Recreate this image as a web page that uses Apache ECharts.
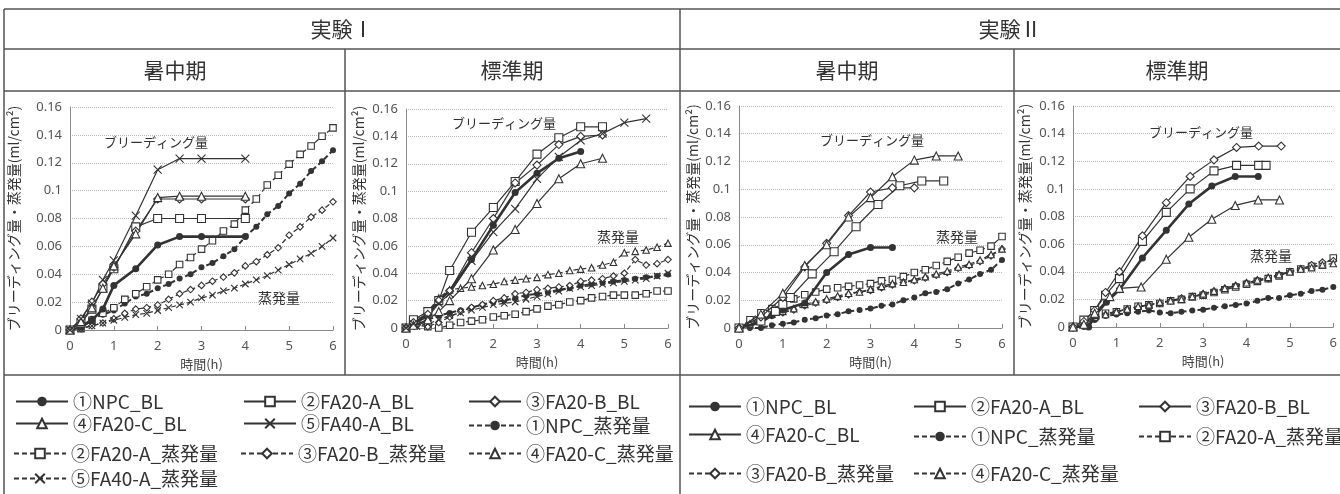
<!DOCTYPE html>
<html><head><meta charset="utf-8">
<script src="https://cdn.jsdelivr.net/npm/echarts@6/dist/echarts.min.js"></script>
<style>html,body{margin:0;padding:0;background:#fff}#c{width:1340px;height:494px}</style>
</head><body><div id="c"></div>
<script>
// ---------- names ----------
const N_NPC_BL = '①NPC_BL', N_A_BL = '②FA20-A_BL', N_B_BL = '③FA20-B_BL', N_C_BL = '④FA20-C_BL', N_F40_BL = '⑤FA40-A_BL';
const N_NPC_EV = '①NPC_蒸発量', N_A_EV = '②FA20-A_蒸発量', N_B_EV = '③FA20-B_蒸発量', N_C_EV = '④FA20-C_蒸発量', N_F40_EV = '⑤FA40-A_蒸発量';
const panelTitles = ['暑中期', '標準期', '暑中期', '標準期'];
const expTitles = ['実験Ⅰ', '実験Ⅱ'];
const yName = 'ブリーディング量・蒸発量(ml/cm²)';
const xName = '時間(h)';

// ---------- evaporation time axis (h) ----------
const evapTime = [0,0.25,0.5,0.75,1,1.25,1.5,1.75,2,2.25,2.5,2.75,3,3.25,3.5,3.75,4,4.25,4.5,4.75,5,5.25,5.5,5.75,6];

// ---------- 実験I 暑中期 ----------
const p1BlTime = [0,0.25,0.5,0.75,1,1.5,2,2.5,3,4];
const p1NpcBl = [0,0.002,0.007,0.015,0.032,0.044,0.061,0.067,0.067,0.067];
const p1ABl   = [0,0.005,0.015,0.030,0.044,0.074,0.080,0.080,0.080,0.080];
const p1BBl   = [0,0.008,0.020,0.033,0.045,0.071,0.094,0.094,0.094,0.094];
const p1CBl   = [0,0.006,0.016,0.030,0.046,0.069,0.095,0.096,0.096,0.096];
const p1F40Bl = [0,0.008,0.019,0.036,0.050,0.082,0.115,0.123,0.123,0.123];
const p1NpcEv = [0,0.002,0.008,0.011,0.014,0.019,0.024,0.026,0.030,0.033,0.037,0.040,0.045,0.048,0.053,0.058,0.067,0.074,0.083,0.089,0.098,0.105,0.114,0.121,0.129];
const p1AEv   = [0,0.001,0.007,0.012,0.016,0.022,0.026,0.031,0.036,0.040,0.047,0.052,0.058,0.064,0.071,0.076,0.086,0.094,0.104,0.111,0.119,0.126,0.132,0.139,0.145];
const p1BEv   = [0,0.001,0.003,0.005,0.008,0.012,0.015,0.016,0.018,0.022,0.026,0.029,0.032,0.035,0.038,0.041,0.046,0.049,0.054,0.059,0.068,0.074,0.081,0.086,0.092];
const p1F40Ev = [0,0.001,0.003,0.005,0.007,0.009,0.011,0.012,0.014,0.016,0.018,0.020,0.023,0.025,0.028,0.030,0.033,0.036,0.039,0.043,0.047,0.051,0.055,0.060,0.066];

// ---------- 実験I 標準期 ----------
const p2BlTime = [0,0.17,0.5,0.75,1,1.5,2,2.5,3,3.5,4,4.5,5,5.5];
const p2NpcBl = [0,0.003,0.010,0.020,0.027,0.050,0.075,0.099,0.113,0.124,0.129];
const p2ABl   = [0,0.006,0.012,0.020,0.042,0.070,0.088,0.107,0.127,0.139,0.147,0.147];
const p2BBl   = [0,0.004,0.010,0.020,0.027,0.055,0.080,0.106,0.119,0.134,0.140,0.141];
const p2CBl   = [0,0.002,0.006,0.012,0.020,0.036,0.057,0.072,0.091,0.109,0.120,0.124];
const p2F40Bl = [0,0.003,0.008,0.018,0.025,0.049,0.070,0.087,0.109,0.125,0.137,0.142,0.150,0.153];
const p2NpcEv = [0,0.002,0.006,0.009,0.011,0.013,0.015,0.017,0.019,0.020,0.022,0.024,0.025,0.026,0.028,0.029,0.031,0.032,0.033,0.034,0.035,0.036,0.037,0.038,0.039];
const p2AEv   = [0,0.005,0.001,0.000,0.002,0.004,0.005,0.006,0.008,0.009,0.010,0.012,0.014,0.016,0.017,0.019,0.020,0.022,0.023,0.024,0.024,0.024,0.025,0.027,0.027];
const p2BEv   = [0,0.002,0.001,0.004,0.008,0.012,0.015,0.017,0.020,0.022,0.025,0.026,0.028,0.029,0.030,0.031,0.034,0.035,0.036,0.038,0.040,0.050,0.046,0.047,0.050];
const p2CEv   = [0,0.005,0.012,0.022,0.028,0.029,0.030,0.031,0.032,0.034,0.035,0.036,0.037,0.039,0.040,0.042,0.043,0.044,0.046,0.048,0.055,0.056,0.057,0.059,0.062];
const p2F40Ev = [0,0.001,0.003,0.006,0.009,0.011,0.013,0.015,0.017,0.018,0.019,0.021,0.023,0.025,0.027,0.029,0.030,0.031,0.032,0.033,0.034,0.035,0.036,0.038,0.040];

// ---------- 実験II 暑中期 ----------
const p3NpcBlTime = [0,0.5,0.75,1,1.5,2,2.5,3,3.5];
const p3NpcBl = [0,0.004,0.009,0.013,0.018,0.040,0.053,0.058,0.058];
const p3ABlTime = [0,0.5,0.83,1,1.17,1.67,2.17,2.67,3.17,3.67,4.17,4.67];
const p3ABl   = [0,0.005,0.012,0.017,0.022,0.039,0.055,0.073,0.089,0.1025,0.106,0.106];
const p3BlTime = [0,0.5,1,1.5,2,2.5,3,3.5,4,4.5,5];
const p3BBl   = [0,0.008,0.022,0.044,0.061,0.081,0.098,0.101,0.101];
const p3CBl   = [0,0.010,0.025,0.045,0.060,0.080,0.094,0.109,0.121,0.124,0.124];
const p3NpcEv = [0,0,0,0.002,0.003,0.004,0.006,0.007,0.009,0.010,0.012,0.013,0.014,0.016,0.017,0.020,0.022,0.025,0.026,0.028,0.032,0.035,0.039,0.042,0.049];
const p3AEv   = [0,0.006,0.011,0.014,0.017,0.021,0.024,0.026,0.028,0.029,0.030,0.031,0.032,0.034,0.035,0.037,0.040,0.042,0.045,0.048,0.051,0.054,0.056,0.059,0.066];
const p3BEv   = [0,0.002,0.006,0.009,0.011,0.013,0.016,0.018,0.020,0.022,0.024,0.026,0.027,0.029,0.031,0.033,0.034,0.036,0.038,0.040,0.043,0.045,0.048,0.052,0.057];
const p3CEv   = [0,0.003,0.007,0.010,0.012,0.014,0.017,0.019,0.021,0.023,0.025,0.026,0.028,0.030,0.032,0.033,0.035,0.037,0.039,0.041,0.044,0.046,0.049,0.053,0.057];

// ---------- 実験II 標準期 ----------
const p4NpcBlTime = [0,0.36,0.5,0.77,1.07,1.6,2.15,2.67,3.2,3.74,4.27];
const p4NpcBl = [0,0,0.008,0.018,0.027,0.050,0.070,0.089,0.102,0.109,0.109];
const p4ABlTime = [0,0.25,0.5,0.75,1.07,1.6,2.15,2.7,3.25,3.77,4.28,4.45];
const p4ABl   = [0,0.005,0.012,0.023,0.035,0.062,0.083,0.100,0.113,0.117,0.117,0.117];
const p4BBlTime = [0,0.25,0.5,0.75,1.07,1.6,2.15,2.7,3.25,3.77,4.28,4.8];
const p4BBl   = [0,0.004,0.012,0.025,0.040,0.066,0.090,0.109,0.121,0.130,0.131,0.131];
const p4CBlTime = [0,0.25,0.5,0.85,1.07,1.57,2.15,2.67,3.2,3.74,4.27,4.76];
const p4CBl   = [0,0.002,0.010,0.022,0.028,0.029,0.049,0.065,0.078,0.088,0.092,0.092];
const p4NpcEv = [0,0,0.005,0.008,0.009,0.010,0.011,0.012,0.0105,0.010,0.011,0.012,0.0125,0.014,0.015,0.016,0.017,0.019,0.021,0.021,0.023,0.024,0.026,0.027,0.029];
const p4AEv   = [0,0.004,0.008,0.010,0.011,0.013,0.015,0.016,0.017,0.019,0.020,0.022,0.023,0.025,0.027,0.029,0.031,0.033,0.035,0.037,0.040,0.042,0.044,0.045,0.050];
const p4BEv   = [0,0.002,0.006,0.009,0.011,0.013,0.014,0.016,0.017,0.019,0.021,0.022,0.024,0.026,0.028,0.030,0.032,0.034,0.035,0.038,0.040,0.042,0.045,0.047,0.048];
const p4CEv   = [0,0.003,0.007,0.009,0.011,0.013,0.015,0.016,0.018,0.019,0.020,0.022,0.024,0.026,0.028,0.030,0.032,0.034,0.036,0.038,0.040,0.042,0.043,0.045,0.046];

// ---------- styling ----------
const FONT = "'Noto Sans CJK JP','Noto Sans',sans-serif";
const LINE = '#333';
const CROSS = 'path://M0,0L10,10M10,0L0,10';
const SYM = {npc:'circle', a:'rect', b:'diamond', c:'triangle', f40:CROSS};

function mk(name, key, evap, gi, times, vals) {
  const npc = key === 'npc';
  return {
    type:'line', name, xAxisIndex:gi, yAxisIndex:gi,
    data: vals.map((v,i)=>[times[i], v]),
    symbol: SYM[key],
    symbolSize: evap ? (npc ? 6 : 6.5) : (npc ? 7 : 8),
    showSymbol:true, animation:false, z: evap ? 2 : 3,
    lineStyle:{color:LINE, width: npc ? (evap ? 2 : 2.6) : 1.2, type: evap ? [5,3] : 'solid'},
    itemStyle:{color: npc ? LINE : '#fff', borderColor: LINE, borderWidth: npc ? 0 : 1.1},
    emphasis:{disabled:true}
  };
}

const series = [
  // panel 1
  mk(N_NPC_EV,'npc',true,0,evapTime,p1NpcEv), mk(N_A_EV,'a',true,0,evapTime,p1AEv),
  mk(N_B_EV,'b',true,0,evapTime,p1BEv), mk(N_F40_EV,'f40',true,0,evapTime,p1F40Ev),
  mk(N_C_EV,'c',true,0,[],[]),
  mk(N_NPC_BL,'npc',false,0,p1BlTime,p1NpcBl), mk(N_A_BL,'a',false,0,p1BlTime,p1ABl),
  mk(N_B_BL,'b',false,0,p1BlTime,p1BBl), mk(N_C_BL,'c',false,0,p1BlTime,p1CBl),
  mk(N_F40_BL,'f40',false,0,p1BlTime,p1F40Bl),
  // panel 2
  mk(N_NPC_EV,'npc',true,1,evapTime,p2NpcEv), mk(N_A_EV,'a',true,1,evapTime,p2AEv),
  mk(N_B_EV,'b',true,1,evapTime,p2BEv), mk(N_C_EV,'c',true,1,evapTime,p2CEv),
  mk(N_F40_EV,'f40',true,1,evapTime,p2F40Ev),
  mk(N_NPC_BL,'npc',false,1,p2BlTime,p2NpcBl), mk(N_A_BL,'a',false,1,p2BlTime,p2ABl),
  mk(N_B_BL,'b',false,1,p2BlTime,p2BBl), mk(N_C_BL,'c',false,1,p2BlTime,p2CBl),
  mk(N_F40_BL,'f40',false,1,p2BlTime,p2F40Bl),
  // panel 3
  mk(N_NPC_EV,'npc',true,2,evapTime,p3NpcEv), mk(N_A_EV,'a',true,2,evapTime,p3AEv),
  mk(N_B_EV,'b',true,2,evapTime,p3BEv), mk(N_C_EV,'c',true,2,evapTime,p3CEv),
  mk(N_NPC_BL,'npc',false,2,p3NpcBlTime,p3NpcBl), mk(N_A_BL,'a',false,2,p3ABlTime,p3ABl),
  mk(N_B_BL,'b',false,2,p3BlTime,p3BBl), mk(N_C_BL,'c',false,2,p3BlTime,p3CBl),
  // panel 4
  mk(N_NPC_EV,'npc',true,3,evapTime,p4NpcEv), mk(N_A_EV,'a',true,3,evapTime,p4AEv),
  mk(N_B_EV,'b',true,3,evapTime,p4BEv), mk(N_C_EV,'c',true,3,evapTime,p4CEv),
  mk(N_NPC_BL,'npc',false,3,p4NpcBlTime,p4NpcBl), mk(N_A_BL,'a',false,3,p4ABlTime,p4ABl),
  mk(N_B_BL,'b',false,3,p4BBlTime,p4BBl), mk(N_C_BL,'c',false,3,p4CBlTime,p4CBl)
];

// ---------- layout ----------
const grids = [
  {left:70, top:107, width:263, height:223},
  {left:406, top:109, width:262, height:219},
  {left:739, top:106, width:263, height:222},
  {left:1073, top:106, width:263, height:221}
];
const yNameGaps = [49, 40, 39, 41];

const xAxes = grids.map((g,i)=>({
  gridIndex:i, type:'value', min:0, max:6, interval:1,
  axisLine:{show:true, lineStyle:{color:'#8a8a8a', width:1}},
  axisTick:{show:true, inside:true, length:4, lineStyle:{color:'#8a8a8a'}},
  axisLabel:{fontSize:13, color:'#555', margin:10, fontFamily:"'Noto Sans',sans-serif"},
  splitLine:{show:false},
  name:xName, nameLocation:'middle', nameGap:28,
  nameTextStyle:{fontSize:13, color:'#444', fontFamily:FONT}
}));
const yAxes = grids.map((g,i)=>({
  gridIndex:i, type:'value', min:0, max:0.16, interval:0.02,
  axisLine:{show:true, lineStyle:{color:'#8a8a8a', width:1}},
  axisTick:{show:false},
  axisLabel:{fontSize:13, color:'#555', margin:8, fontFamily:"'Noto Sans',sans-serif"},
  splitLine:{show:true, lineStyle:{type:'dotted', color:'#b8b8b8', width:1}},
  name:yName, nameLocation:'middle', nameGap:yNameGaps[i], nameRotate:90,
  nameTextStyle:{fontSize:14, color:'#333', fontFamily:FONT}
}));

// ---------- legends (one per item, placed like the original table) ----------
function leg(name, left, iconY, low) {
  return {
    data:[name], left:left, top:iconY - 6, itemWidth:52, itemHeight:12, itemGap:0, padding:0,
    selectedMode:false,
    textStyle:{fontSize:19, color:'#333', fontFamily:FONT, verticalAlign: low ? 'top' : 'middle'}
  };
}
const legends = [
  leg(N_NPC_BL, 15, 398, true), leg(N_A_BL, 243, 398, true), leg(N_B_BL, 468, 398, true),
  leg(N_C_BL, 15, 420, true), leg(N_F40_BL, 243, 420, true), leg(N_NPC_EV, 468, 422, false),
  leg(N_A_EV, 13, 450, false), leg(N_B_EV, 240, 450, false), leg(N_C_EV, 468, 450, false),
  leg(N_F40_EV, 13, 475, false),
  leg(N_NPC_BL, 688, 403, true), leg(N_A_BL, 913, 403, true), leg(N_B_BL, 1138, 403, true),
  leg(N_C_BL, 688, 431, true), leg(N_NPC_EV, 913, 433, false), leg(N_A_EV, 1138, 433, false),
  leg(N_B_EV, 688, 470, false), leg(N_C_EV, 913, 470, false)
];

// ---------- frame & texts ----------
function ln(x1,y1,x2,y2){return {type:'line', silent:true, z:10, shape:{x1,y1,x2,y2}, style:{stroke:'#555', lineWidth:1.5}};}
function tx(text,x,y,size){return {type:'text', silent:true, z:10, style:{text, x, y, fill:'#333', font:`${size}px ${FONT}`, textAlign:'center', textVerticalAlign:'middle'}};}
const graphic = [
  ln(4,9,1340,9), ln(4,49,1340,49), ln(4,91,1340,91), ln(4,375,1340,375),
  ln(4,9,4,494), ln(680,9,680,494), ln(345,49,345,375), ln(1014,49,1014,375),
  tx(expTitles[0],342,29,21), tx(expTitles[1],1010,29,21),
  tx(panelTitles[0],175,70,21), tx(panelTitles[1],512,70,21),
  tx(panelTitles[2],847,70,21), tx(panelTitles[3],1177,70,21),
  tx('ブリーディング量',156,142,13), tx('ブリーディング量',504,123,13),
  tx('ブリーディング量',872,140,13), tx('ブリーディング量',1201,132,13),
  tx('蒸発量',279,298,14), tx('蒸発量',618,237,14),
  tx('蒸発量',957,237,14), tx('蒸発量',1271,256,14)
];

const chart = echarts.init(document.getElementById('c'), null, {renderer:'canvas'});
chart.setOption({
  backgroundColor:'#fff', animation:false,
  grid: grids, xAxis: xAxes, yAxis: yAxes,
  legend: legends, series: series, graphic: graphic
});
</script>
</body></html>
